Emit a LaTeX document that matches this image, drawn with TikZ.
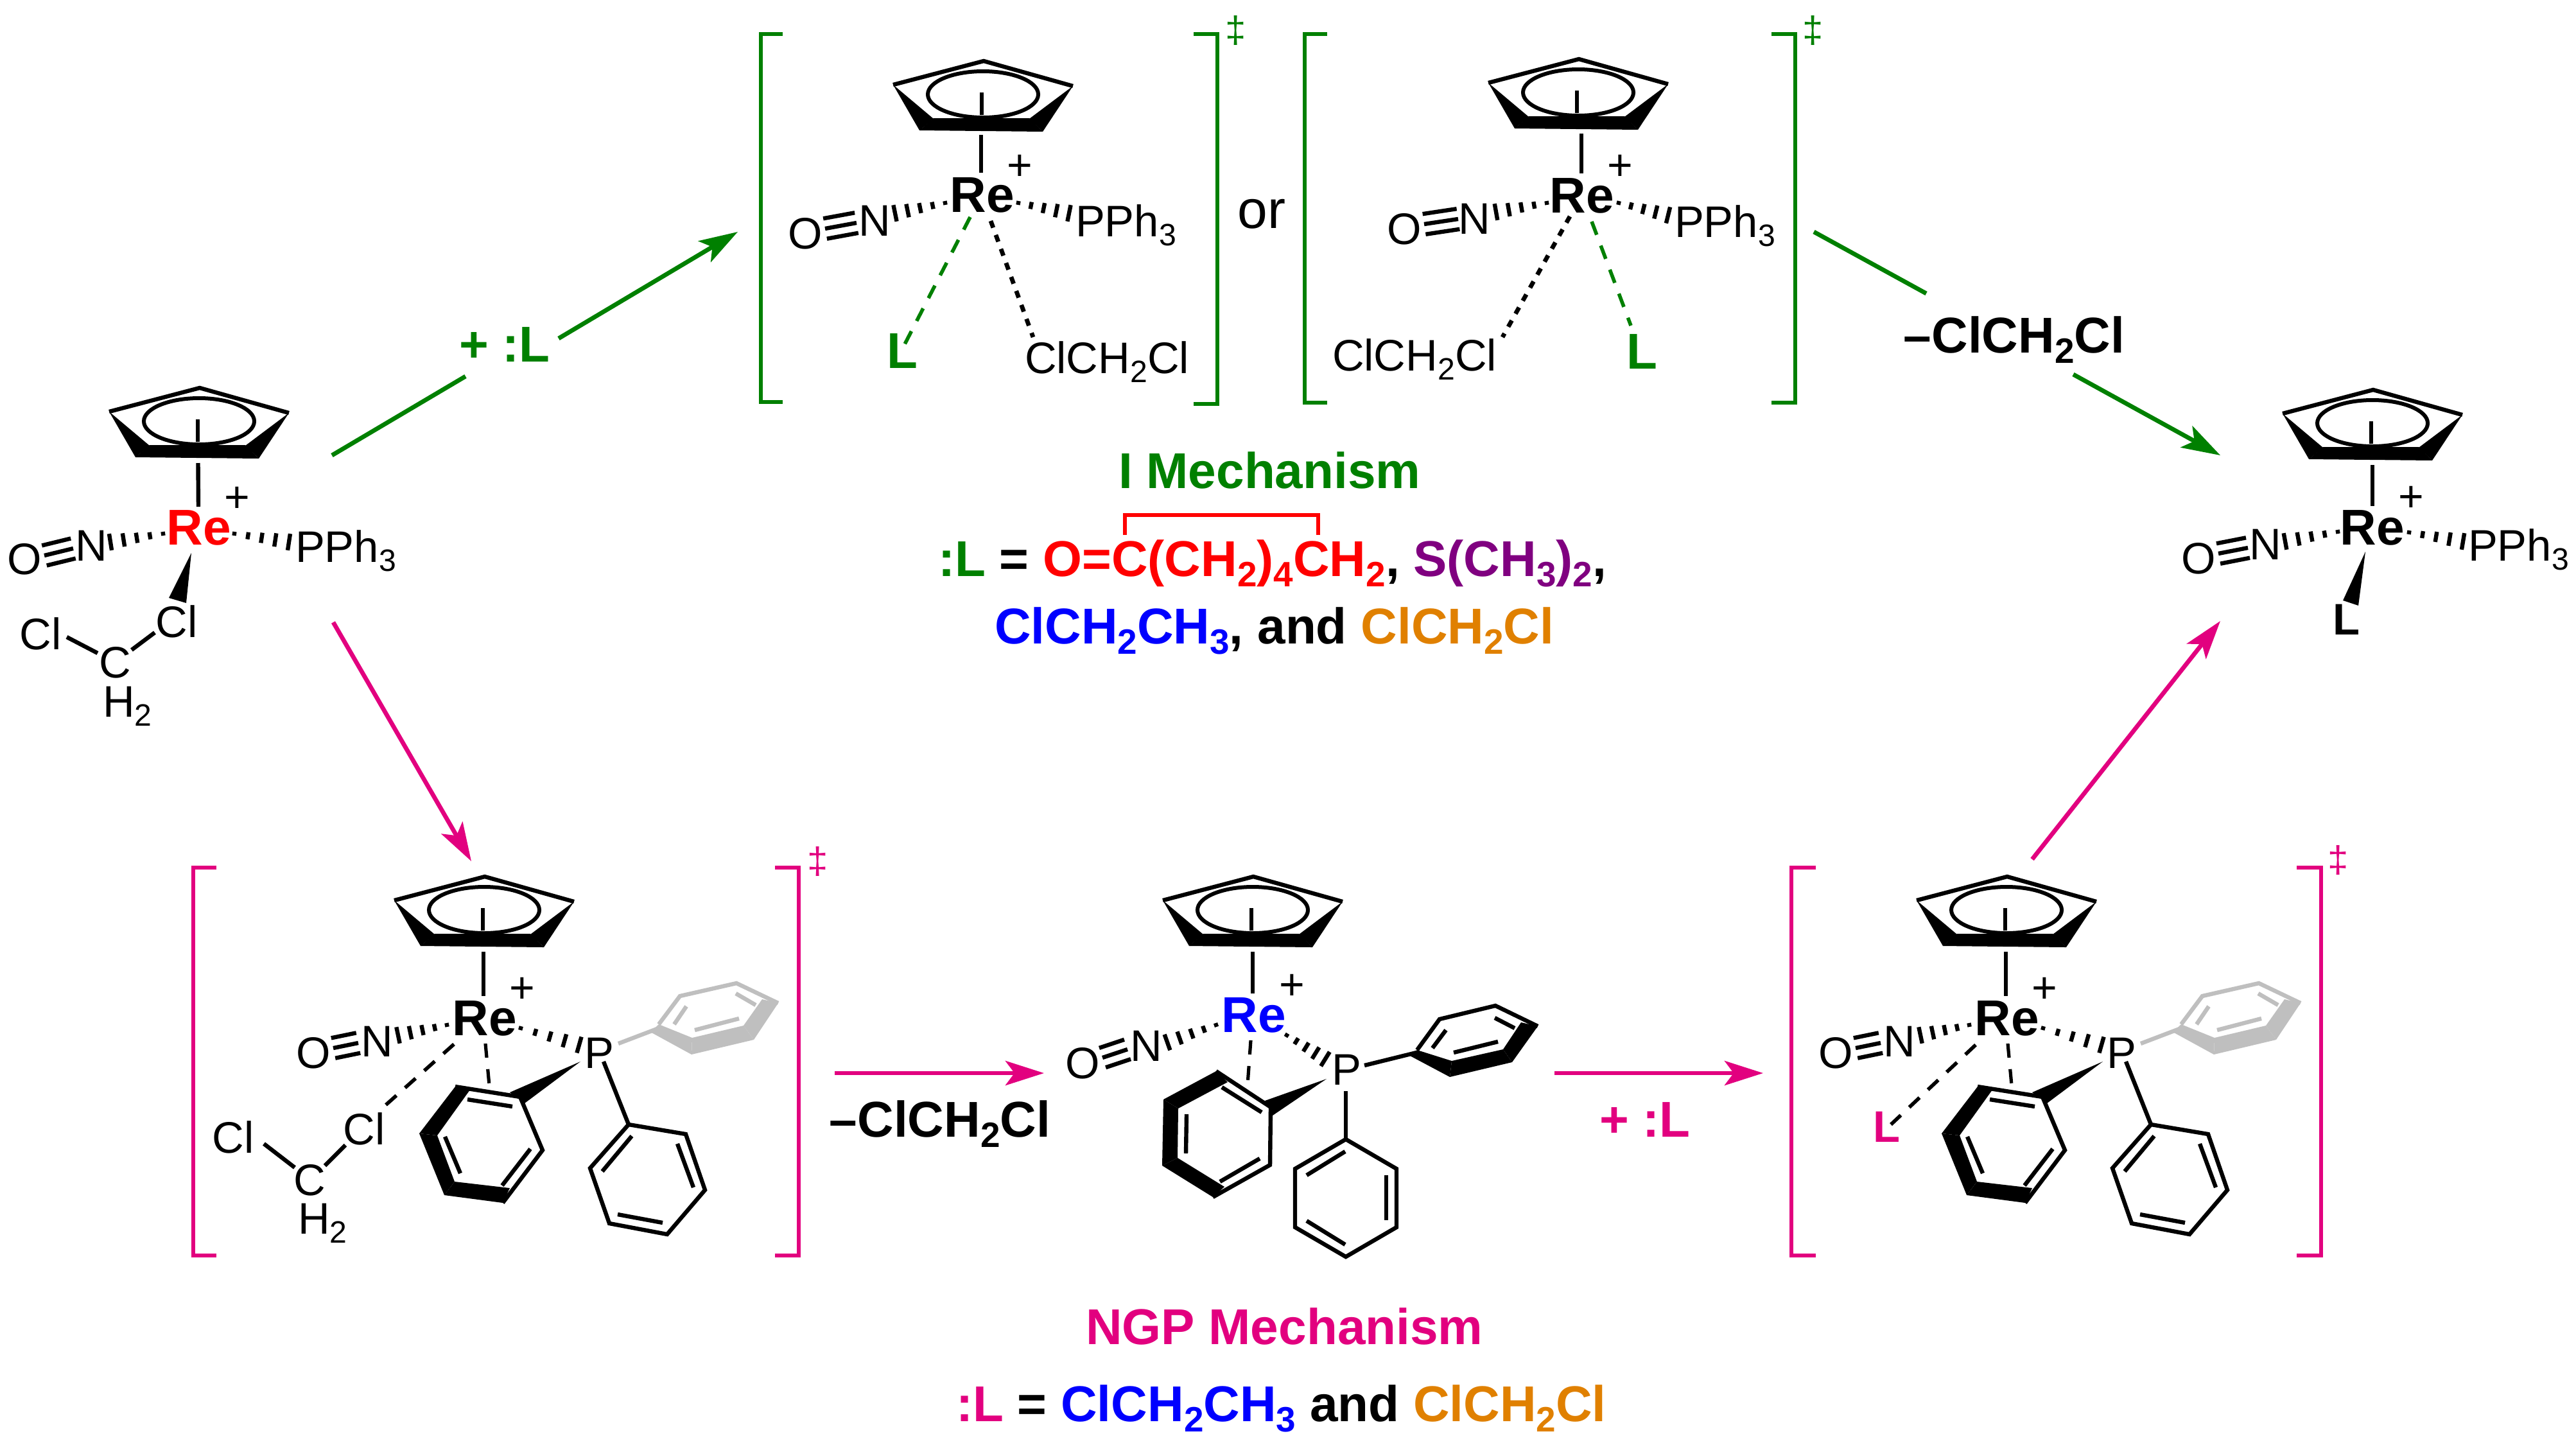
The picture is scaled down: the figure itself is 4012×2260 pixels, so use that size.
\documentclass[tikz,border=0pt]{standalone}
\usepackage{fontspec}
\usepackage{graphicx}
\setmainfont{Liberation Sans}
\usetikzlibrary{arrows.meta}
\definecolor{mgreen}{HTML}{008000}
\definecolor{mpink}{HTML}{E2007F}
\definecolor{mred}{HTML}{FF0000}
\definecolor{mblue}{HTML}{0000FF}
\definecolor{mpurple}{HTML}{800080}
\definecolor{morange}{HTML}{E08000}
\definecolor{mgrey}{HTML}{BFBFBF}
\newcommand{\sbs}[1]{\raisebox{-0.21em}{\scalebox{0.7}{#1}}}
\tikzset{
  txt/.style={inner sep=0pt,outer sep=0pt,font=\fontsize{17.2}{20}\selectfont},
  btxt/.style={inner sep=0pt,outer sep=0pt,font=\fontsize{19.6}{22}\selectfont\bfseries},
  btxs/.style={inner sep=0pt,outer sep=0pt,font=\fontsize{17.2}{20}\selectfont\bfseries},
  plus/.style={inner sep=0pt,outer sep=0pt,font=\fontsize{17}{20}\selectfont},
  dag/.style={inner sep=0pt,outer sep=0pt,font=\fontsize{14.5}{16}\selectfont},
  bondl/.style={line width=1.6pt,line cap=butt,line join=miter},
  hashl/.style={line width=1.6pt,line cap=butt},
  dashl/.style={line width=1.4pt,dash pattern=on 5.5pt off 4.5pt},
  dotl/.style={line width=1.7pt,dash pattern=on 2.8pt off 3pt},
  arrowl/.style={line width=1.7pt,-{Stealth[length=15pt,width=9.5pt,inset=3.5pt]}},
  segl/.style={line width=1.7pt},
  brk/.style={line width=1.4pt,line join=miter},
}
% hashed wedge: x1 y1 x2 y2 n halfwidth
\newcommand{\hashb}[6]{%
  \foreach \i in {1,...,#5}{%
    \pgfmathsetmacro\tval{(\i-1)/(#5-1)}%
    \pgfmathsetmacro\hx{#1+\tval*(#3-(#1))}%
    \pgfmathsetmacro\hy{#2+\tval*(#4-(#2))}%
    \pgfmathsetmacro\hlen{veclen(#3-(#1),#4-(#2))}%
    \pgfmathsetmacro\hw{3+\tval*(#6-3)}%
    \pgfmathsetmacro\nnx{-(#4-(#2))/\hlen}%
    \pgfmathsetmacro\nny{(#3-(#1))/\hlen}%
    \draw[hashl] ({\hx+\hw*\nnx},{\hy+\hw*\nny}) -- ({\hx-\hw*\nnx},{\hy-\hw*\nny});
  }}
% triple bond: centre line x1 y1 x2 y2
\newcommand{\tripleb}[4]{%
  \pgfmathsetmacro\hlen{veclen(#3-(#1),#4-(#2))}%
  \pgfmathsetmacro\nnx{-16*(#4-(#2))/\hlen}%
  \pgfmathsetmacro\nny{16*(#3-(#1))/\hlen}%
  \draw[bondl] (#1,#2) -- (#3,#4);
  \draw[bondl] ({#1+\nnx},{#2+\nny}) -- ({#3+\nnx},{#4+\nny});
  \draw[bondl] ({#1-\nnx},{#2-\nny}) -- ({#3-\nnx},{#4-\nny});
}
% cyclopentadienyl ring, apex at x y
\newcommand{\cpring}[2]{%
  \begin{scope}[shift={(#1,#2)}]
    \fill (-141,37) -- (-78,90) -- (-100,108) -- cycle;
    \fill (139,39) -- (71,90) -- (92,110) -- cycle;
    \fill (-78,89) -- (71,89) -- (92,110) -- (-100,108) -- cycle;
    \draw[bondl] (-141,37) -- (0,0) -- (139,39);
    \draw[line width=1.5pt] (-1,52) ellipse [x radius=86,y radius=36];
    \draw[bondl] (-3,49) -- (-3,84);
  \end{scope}}
% transition-state complex with three phenyls (bottom row)
\newcommand{\tscomplex}[2]{%
  \begin{scope}[shift={(#2,0)}]
    \cpring{3126}{1365}
    \node[btxt] (re#1) at (3126,1586) {Re};
    \node[plus] (pl#1) at (3184,1542) {+};
    \coordinate (cpb#1) at (3124,1482);
    \coordinate (reb#1) at (3124,1551);
    \draw[bondl] (cpb#1) -- (reb#1);
    \node[txt] (n#1) at (2958,1622) {N};
    \node[txt] (o#1) at (2859,1640) {O};
    \tripleb{2890}{1632}{2929}{1624}
    \hashb{3067}{1596}{2991}{1612}{5}{13}
    \hashb{3182}{1601}{3273}{1627}{5}{13}
    \node[txt] (p#1) at (3304,1640) {P};
    \draw[line width=1.3pt,dash pattern=on 5.5pt off 4.5pt] (3127,1625) -- (3133,1690);
    % wedge P - front ring
    \fill (3275,1653) -- (3165,1701) -- (3188,1718) -- cycle;
    % front ring
    \fill (3080,1692) -- (3024,1765) -- (3052,1768) -- (3103,1697) -- cycle;
    \fill (3024,1765) -- (3063,1861) -- (3079,1840) -- (3052,1768) -- cycle;
    \fill (3063,1861) -- (3154,1873) -- (3165,1850) -- (3079,1840) -- cycle;
    \draw[bondl] (3080,1692) -- (3181,1708) -- (3216,1791) -- (3154,1873);
    \draw[bondl] (3099,1712) -- (3169,1723);
    \draw[bondl] (3064,1770) -- (3088,1827);
    \draw[bondl] (3197,1789) -- (3153,1846);
    % lower ring
    \draw[bondl] (3311,1653) -- (3350,1751);
    \draw[bondl] (3350,1751) -- (3439,1766) -- (3469,1853) -- (3410,1922) -- (3320,1905) -- (3290,1819) -- cycle;
    \draw[bondl] (3355,1769) -- (3309,1824);
    \draw[bondl] (3426,1781) -- (3451,1849);
    \draw[bondl] (3403,1904) -- (3333,1891);
    % grey ring
    \begin{scope}[color=mgrey]
      \draw[bondl] (3334,1625) -- (3397,1601);
      \fill (3384,1607) -- (3448,1642) -- (3449,1616) -- (3397,1595) -- cycle;
      \fill (3448,1642) -- (3545,1619) -- (3529,1597) -- (3449,1616) -- cycle;
      \fill (3545,1619) -- (3583,1562) -- (3558,1556) -- (3529,1597) -- cycle;
      \draw[bondl] (3397,1595) -- (3430,1551) -- (3518,1531) -- (3583,1562);
      \draw[bondl] (3421,1595) -- (3440,1567);
      \draw[bondl] (3453,1604) -- (3522,1586);
      \draw[bondl] (3517,1547) -- (3548,1565);
    \end{scope}
  \end{scope}}
\begin{document}
\begin{tikzpicture}[x=0.25pt,y=-0.25pt]
\useasboundingbox (0,0) rectangle (4012,2260);
\fill[white] (0,0) rectangle (4012,2260);

% ---------- complex 1 (left)
\cpring{311}{604}
\node[btxt,text=mred] (re1) at (310,822) {Re};
\node[plus] (pl1) at (369,778) {+};
\coordinate (cpb1) at (308.5,721); \coordinate (reb1) at (309,789);
\draw[bondl] (cpb1) -- (reb1);
\node[txt] (n1) at (142,850) {N};
\node[txt] (o1) at (38,871) {O};
\tripleb{69}{865}{114}{854}
\hashb{254}{831}{172}{844}{5}{13}
\hashb{365}{831}{450}{844}{5}{13}
\node[txt,anchor=base west] (p1) at (460,875) {PPh\sbs{3}};
\fill (298,861) -- (263,931) -- (290,939) -- cycle;
\node[txt] (clr1) at (275,968) {Cl};
\node[txt] (cll1) at (63,987) {Cl};
\node[txt] (c1) at (179,1032) {C};
\node[txt,anchor=base west] (h1) at (160,1116) {H\sbs{2}};
\draw[bondl] (104,992) -- (152,1017);
\draw[bondl] (205,1012) -- (241,985);

% ---------- complex 2 (top left TS)
\cpring{1532}{95}
\node[btxt] (re2) at (1530,304) {Re};
\node[plus] (pl2) at (1588,261) {+};
\coordinate (cpb2) at (1528,210); \coordinate (reb2) at (1528,269);
\draw[bondl] (cpb2) -- (reb2);
\node[txt] (n2) at (1362,344) {N};
\node[txt] (o2) at (1254,364) {O};
\tripleb{1285}{356}{1334}{347}
\hashb{1472}{316}{1394}{332}{5}{13}
\hashb{1586}{316}{1665}{332}{5}{13}
\node[txt,anchor=base west] (p2) at (1675,368) {PPh\sbs{3}};
\node[btxt,text=mgreen] (l2) at (1405,547) {L};
\node[txt,anchor=base west] (cl2) at (1596,581) {ClCH\sbs{2}Cl};
\draw[dashl,mgreen] (1511,338) -- (1408,538);
\draw[dotl] (1543,344) -- (1609,525);
\draw[brk,mgreen] (1219,53) -- (1185,53) -- (1185,626) -- (1219,626);
\draw[brk,mgreen] (1859,53) -- (1896,53) -- (1896,629) -- (1859,629);
\node[dag,text=mgreen] (dg2) at (1925,47) {‡};

\node[txt,font=\fontsize{21}{24}\selectfont] (orw) at (1965,333) {or};

% ---------- complex 3 (top right TS)
\cpring{2459}{92}
\node[btxt] (re3) at (2464,305) {Re};
\node[plus] (pl3) at (2523,261) {+};
\coordinate (cpb3) at (2463,208); \coordinate (reb3) at (2463,270);
\draw[bondl] (cpb3) -- (reb3);
\node[txt] (n3) at (2296,341) {N};
\node[txt] (o3) at (2187,357) {O};
\tripleb{2218}{349}{2271}{341}
\hashb{2409}{316}{2330}{330}{5}{13}
\hashb{2521}{316}{2598}{335}{5}{13}
\node[txt,anchor=base west] (p3) at (2608,369) {PPh\sbs{3}};
\node[btxt,text=mgreen] (l3) at (2557,548) {L};
\node[txt,anchor=base west] (cl3) at (2075,577) {ClCH\sbs{2}Cl};
\draw[dashl,mgreen] (2479,345) -- (2540,507);
\draw[dotl] (2445,337) -- (2340,525);
\draw[brk,mgreen] (2067,53) -- (2032,53) -- (2032,627) -- (2067,627);
\draw[brk,mgreen] (2759,53) -- (2796,53) -- (2796,627) -- (2759,627);
\node[dag,text=mgreen] (dg3) at (2824,47) {‡};

% ---------- complex 4 (right product)
\cpring{3696}{607}
\node[btxt] (re4) at (3695,822) {Re};
\node[plus] (pl4) at (3755,777) {+};
\coordinate (cpb4) at (3695,724); \coordinate (reb4) at (3695,788);
\draw[bondl] (cpb4) -- (reb4);
\node[txt] (n4) at (3528,848) {N};
\node[txt] (o4) at (3424,870) {O};
\tripleb{3455}{862}{3501}{853}
\hashb{3641}{828}{3559}{843}{5}{13}
\hashb{3752}{829}{3836}{843}{5}{13}
\node[txt,anchor=base west] (p4) at (3844,873) {PPh\sbs{3}};
\fill (3684,859) -- (3649,935) -- (3673,943) -- cycle;
\node[btxs] (l4) at (3654,965) {L};

% ---------- complex 5 (bottom left TS)
\tscomplex{5}{-2371}
\node[txt] (clr5) at (567,1758) {Cl};
\node[txt] (cll5) at (363,1771) {Cl};
\node[txt] (c5) at (482,1838) {C};
\node[txt,anchor=base west] (h5) at (464,1921) {H\sbs{2}};
\draw[bondl] (411,1781) -- (459,1818);
\draw[bondl] (506,1815) -- (538,1783);
\draw[dashl] (707,1626) -- (597,1724);
\draw[brk,mpink] (337,1351) -- (301,1351) -- (301,1955) -- (337,1955);
\draw[brk,mpink] (1207,1351) -- (1244,1351) -- (1244,1955) -- (1207,1955);
\node[dag,text=mpink] (dg5) at (1274,1341) {‡};

% ---------- complex 6 (bottom middle)
\cpring{1952}{1365}
\node[btxt,text=mblue] (re6) at (1953,1581) {Re};
\node[plus] (pl6) at (2012,1537) {+};
\coordinate (cpb6) at (1951,1482); \coordinate (reb6) at (1951,1547);
\draw[bondl] (cpb6) -- (reb6);
\node[txt] (n6) at (1785,1629) {N};
\node[txt] (o6) at (1686,1656) {O};
\tripleb{1717}{1647}{1756}{1634}
\hashb{1894}{1596}{1818}{1623}{5}{13}
\hashb{2004}{1612}{2064}{1649}{5}{13}
\node[txt] (p6) at (2097,1666) {P};
\draw[line width=1.3pt,dash pattern=on 5.5pt off 4.5pt] (1948,1620) -- (1943,1689);
\fill (2066,1680) -- (1970,1714) -- (1982,1737) -- cycle;
\fill (1894,1668) -- (1812,1712) -- (1835,1726) -- (1912,1685) -- cycle;
\fill (1812,1712) -- (1810,1815) -- (1834,1803) -- (1835,1726) -- cycle;
\fill (1810,1815) -- (1889,1864) -- (1907,1848) -- (1834,1803) -- cycle;
\draw[bondl] (1894,1668) -- (1979,1724) -- (1978,1814) -- (1889,1864);
\draw[bondl] (1903,1693) -- (1965,1732);
\draw[bondl] (1848,1735) -- (1847,1796);
\draw[bondl] (1900,1840) -- (1962,1804);
\draw[bondl] (2096,1699) -- (2096,1774);
\draw[bondl] (2096,1774) -- (2175,1820) -- (2175,1911) -- (2096,1957) -- (2017,1911) -- (2017,1820) -- cycle;
\draw[bondl] (2035,1830) -- (2095,1793);
\draw[bondl] (2159,1830) -- (2159,1900);
\draw[bondl] (2095,1938) -- (2035,1901);
\draw[bondl] (2125,1659) -- (2206,1639);
\fill (2194,1643) -- (2258,1677) -- (2261,1652) -- (2207,1635) -- cycle;
\fill (2258,1677) -- (2355,1654) -- (2341,1634) -- (2261,1652) -- cycle;
\fill (2355,1654) -- (2395,1598) -- (2369,1592) -- (2341,1634) -- cycle;
\draw[bondl] (2207,1635) -- (2242,1587) -- (2329,1566) -- (2395,1598);
\draw[bondl] (2231,1632) -- (2252,1604);
\draw[bondl] (2264,1639) -- (2333,1622);
\draw[bondl] (2328,1585) -- (2359,1601);

% ---------- complex 7 (bottom right TS)
\tscomplex{7}{0}
\node[btxs,text=mpink] (l7) at (2938,1755) {L};
\draw[dashl] (3077,1627) -- (2945,1751);
\draw[brk,mpink] (2828,1351) -- (2790,1351) -- (2790,1955) -- (2828,1955);
\draw[brk,mpink] (3577,1351) -- (3615,1351) -- (3615,1955) -- (3577,1955);
\node[dag,text=mpink] (dg7) at (3642,1339) {‡};

% ---------- arrows
\node[btxt,text=mgreen] (plusl) at (786,537) {+ :L};
\coordinate (ga1) at (517,709); \coordinate (ga2) at (725,586);
\coordinate (ga3) at (870,527); \coordinate (ga4) at (1149,361);
\draw[segl,mgreen] (ga1) -- (ga2);
\draw[arrowl,mgreen] (ga3) -- (ga4);
\node[btxt,anchor=base] (mcl1) at (3137,549) {–ClCH\sbs{2}Cl};
\coordinate (gb1) at (2825,361); \coordinate (gb2) at (3000,457);
\coordinate (gb3) at (3229,583); \coordinate (gb4) at (3458,709);
\draw[segl,mgreen] (gb1) -- (gb2);
\draw[arrowl,mgreen] (gb3) -- (gb4);
\coordinate (pa1) at (519,969); \coordinate (pa2) at (734,1341);
\draw[arrowl,mpink] (pa1) -- (pa2);
\coordinate (pb1) at (1300,1671); \coordinate (pb2) at (1626,1671);
\draw[arrowl,mpink] (pb1) -- (pb2);
\node[btxt,anchor=base] (mcl2) at (1464,1770) {–ClCH\sbs{2}Cl};
\coordinate (pc1) at (2421,1671); \coordinate (pc2) at (2746,1671);
\draw[arrowl,mpink] (pc1) -- (pc2);
\node[btxt,text=mpink] (plusl2) at (2562,1743) {+ :L};
\coordinate (pd1) at (3165,1338); \coordinate (pd2) at (3458,967);
\draw[arrowl,mpink] (pd1) -- (pd2);

% ---------- captions
\node[btxt,text=mgreen,anchor=base west] (imech) at (1742,760) {I Mechanism};
\node[btxt,anchor=base west] (ll1) at (1461,897) {{\color{mgreen}:L} = {\color{mred}O=C(CH\sbs{2})\sbs{4}CH\sbs{2}}, {\color{mpurple}S(CH\sbs{3})\sbs{2}},};
\node[btxt,anchor=base west] (ll2) at (1549,1002) {{\color{mblue}ClCH\sbs{2}CH\sbs{3}}, and {\color{morange}ClCH\sbs{2}Cl}};
\coordinate (rr1) at (1752,833); \coordinate (rr2) at (1752,802);
\coordinate (rr3) at (2053,802); \coordinate (rr4) at (2053,833);
\draw[line width=1.5pt,mred,line join=miter] (rr1) -- (rr2) -- (rr3) -- (rr4);
\node[btxt,text=mpink,anchor=base west] (ngp) at (1691,2093) {NGP Mechanism};
\node[btxt,anchor=base west] (ll3) at (1489,2213) {{\color{mpink}:L} = {\color{mblue}ClCH\sbs{2}CH\sbs{3}} and {\color{morange}ClCH\sbs{2}Cl}};
\end{tikzpicture}
\end{document}
